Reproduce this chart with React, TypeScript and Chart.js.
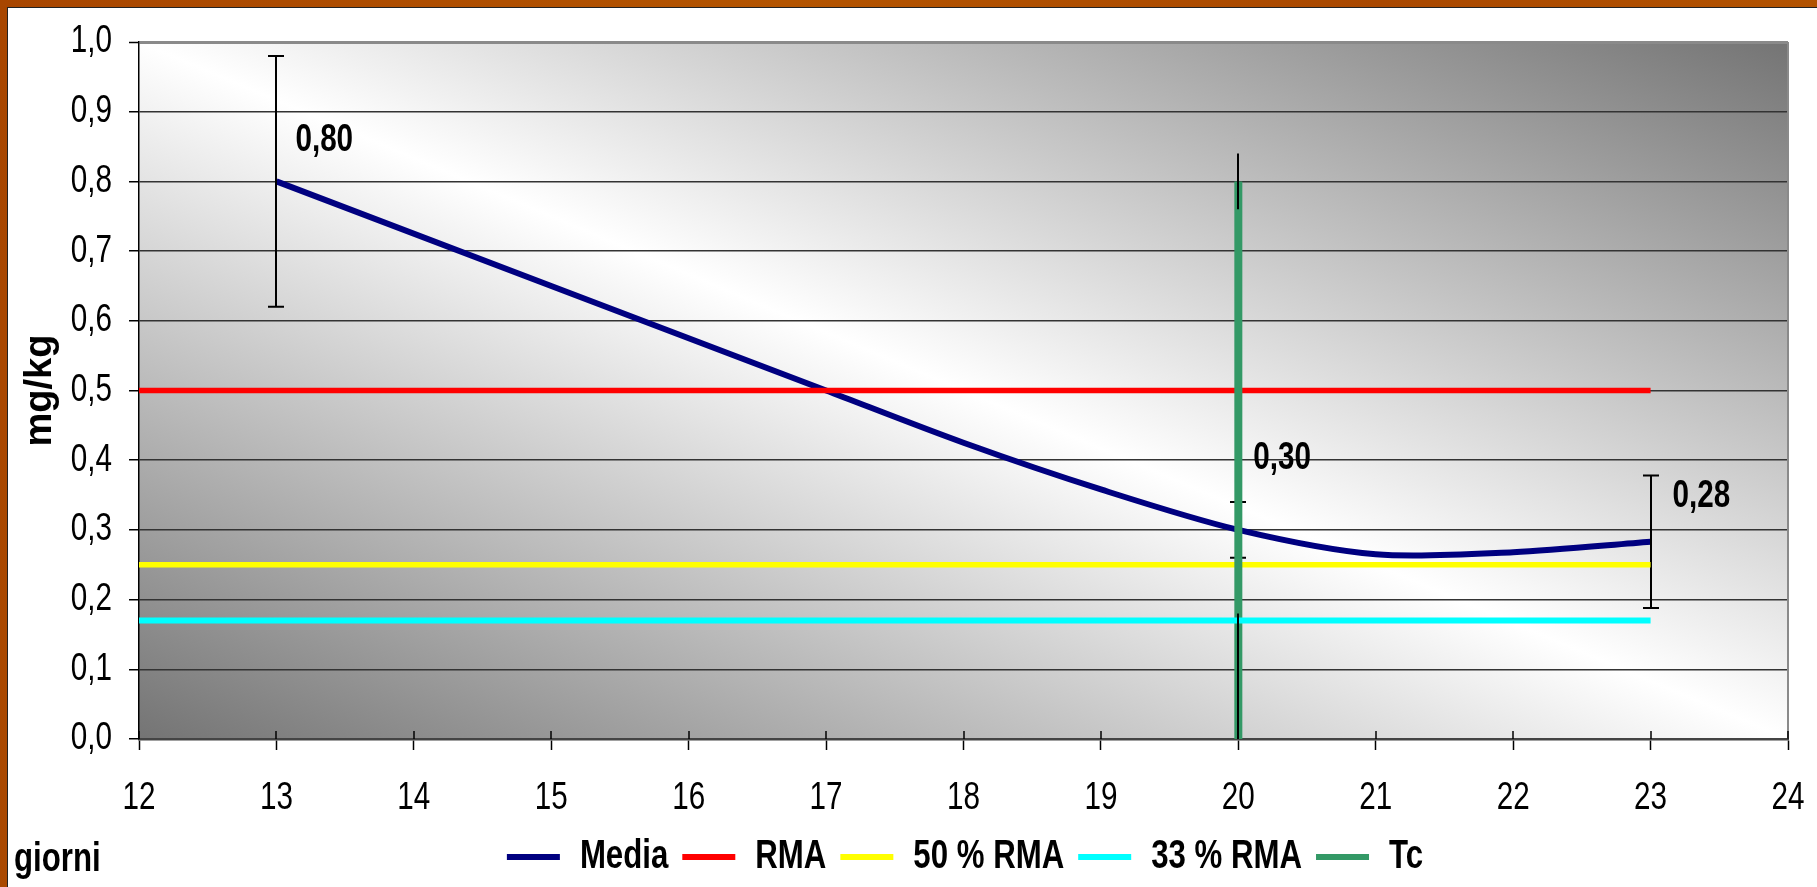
import React, { useEffect, useRef } from "react";
import { Chart, registerables } from "chart.js";

Chart.register(...registerables);

// ---------- data ----------
const xMin = 12;
const xMax = 24;
const yMin = 0;
const yMax = 1;
const yStep = 0.1;

const seriesNames = ["Media", "RMA", "50 % RMA", "33 % RMA", "Tc"];

const mediaDays = [13, 17, 18, 19, 20, 21, 22, 23];
const mediaValues = [0.8, 0.5, 0.425, 0.358, 0.3, 0.265, 0.268, 0.283];

const labeledDays = [13, 20, 23];
const mediaErrDays = [13, 20, 23];
const mediaErr = [0.18, 0.04, 0.095];

const refDays = [12, 23];
const rmaValues = [0.5, 0.5];
const rma50Values = [0.25, 0.25];
const rma33Values = [0.17, 0.17];

const tcDays = [20, 20];
const tcValues = [0, 0.8];
const tcErrPlus = [0.18, 0.04];
const tcErrMinus = [0, 0.04];

const xTitle = "giorni";
const yTitle = "mg/kg";

// ---------- styles ----------
const FONT = '"Liberation Sans", Arial, sans-serif';
const CONDENSE = 0.78;

const fmt = (v: number, d: number) => v.toFixed(d).replace(".", ",");
const toPts = (xs: number[], ys: number[]) => xs.map((x, i) => ({ x, y: ys[i] }));

// horizontal text condensing (emulates a narrow face) for unrotated text
function condenseText(ctx: any, f: number) {
  if (ctx.__condensed) return;
  ctx.__condensed = true;
  const origFill = ctx.fillText.bind(ctx);
  const origMeasure = ctx.measureText.bind(ctx);
  const isRotated = () => {
    const t = ctx.getTransform();
    return Math.abs(t.b) > 1e-6 || Math.abs(t.c) > 1e-6;
  };
  ctx.fillText = (text: string, x: number, y: number, maxWidth?: number) => {
    if (isRotated()) {
      if (maxWidth === undefined) origFill(text, x, y);
      else origFill(text, x, y, maxWidth);
      return;
    }
    ctx.save();
    ctx.translate(x, y);
    ctx.scale(f, 1);
    if (maxWidth === undefined) origFill(text, 0, 0);
    else origFill(text, 0, 0, maxWidth / f);
    ctx.restore();
  };
  ctx.measureText = (text: string) => {
    const m = origMeasure(text);
    const k = isRotated() ? 1 : f;
    return {
      width: m.width * k,
      actualBoundingBoxLeft: m.actualBoundingBoxLeft * k,
      actualBoundingBoxRight: m.actualBoundingBoxRight * k,
      actualBoundingBoxAscent: m.actualBoundingBoxAscent,
      actualBoundingBoxDescent: m.actualBoundingBoxDescent,
      fontBoundingBoxAscent: m.fontBoundingBoxAscent,
      fontBoundingBoxDescent: m.fontBoundingBoxDescent,
    };
  };
}

const decoPlugin = {
  id: "deco",
  afterLayout(chart: any) {
    const lg = chart.legend;
    if (lg) {
      const dx = 67;
      lg.left += dx;
      lg.right += dx;
    }
  },
  beforeDraw(chart: any) {
    const { ctx, chartArea: a } = chart;
    ctx.save();
    ctx.fillStyle = "#ffffff";
    ctx.fillRect(0, 0, chart.width, chart.height);
    const w = a.right - a.left;
    const h = a.bottom - a.top;
    const cx = (a.left + a.right) / 2;
    const cy = (a.top + a.bottom) / 2;
    const L = Math.hypot(w, h);
    const nx = h / L;
    const ny = -w / L;
    const k = (w * h) / L;
    const g = ctx.createLinearGradient(cx - nx * k, cy - ny * k, cx + nx * k, cy + ny * k);
    g.addColorStop(0, "#747474");
    g.addColorStop(0.5, "#ffffff");
    g.addColorStop(1, "#747474");
    ctx.fillStyle = g;
    ctx.fillRect(a.left, a.top, w, h);
    ctx.restore();
  },
  afterDatasetDraw(chart: any, args: any) {
    if (args.index !== 0) return;
    const { ctx } = chart;
    const xs = chart.scales.x;
    const ys = chart.scales.y;
    ctx.save();
    ctx.strokeStyle = "#000";
    ctx.lineWidth = 2;
    mediaErrDays.forEach((d, i) => {
      const v = mediaValues[mediaDays.indexOf(d)];
      const px = Math.round(xs.getPixelForValue(d));
      const y1 = ys.getPixelForValue(v + mediaErr[i]);
      const y2 = ys.getPixelForValue(v - mediaErr[i]);
      ctx.beginPath();
      ctx.moveTo(px, y1);
      ctx.lineTo(px, y2);
      ctx.moveTo(px - 8, y1);
      ctx.lineTo(px + 8, y1);
      ctx.moveTo(px - 8, y2);
      ctx.lineTo(px + 8, y2);
      ctx.stroke();
    });
    ctx.restore();
  },
  afterDatasetsDraw(chart: any) {
    const { ctx, chartArea: a } = chart;
    const xs = chart.scales.x;
    const ys = chart.scales.y;
    ctx.save();
    // Tc error segments
    ctx.strokeStyle = "#000";
    ctx.lineWidth = 2;
    tcDays.forEach((d, i) => {
      const px = Math.round(xs.getPixelForValue(d));
      ctx.beginPath();
      ctx.moveTo(px, ys.getPixelForValue(tcValues[i] + tcErrPlus[i]));
      ctx.lineTo(px, ys.getPixelForValue(tcValues[i] - tcErrMinus[i]));
      ctx.stroke();
    });
    // right border of plot area
    ctx.strokeStyle = "#8a8a8a";
    ctx.lineWidth = 2;
    ctx.beginPath();
    ctx.moveTo(a.right, a.top);
    ctx.lineTo(a.right, a.bottom);
    ctx.stroke();
    // inner parts of x ticks
    ctx.strokeStyle = "#000";
    ctx.lineWidth = 1.5;
    xs.ticks.forEach((t: any) => {
      const px = Math.round(xs.getPixelForValue(t.value));
      ctx.beginPath();
      ctx.moveTo(px, a.bottom - 8);
      ctx.lineTo(px, a.bottom);
      ctx.stroke();
    });
    // data labels
    const offsets = [
      [19, -41],
      [15, -71],
      [22, -45],
    ];
    ctx.fillStyle = "#000";
    ctx.font = `bold 38px ${FONT}`;
    ctx.textAlign = "left";
    ctx.textBaseline = "middle";
    labeledDays.forEach((d, i) => {
      const v = mediaValues[mediaDays.indexOf(d)];
      const px = xs.getPixelForValue(d);
      const py = ys.getPixelForValue(v);
      ctx.fillText(fmt(v, 2), px + offsets[i][0], py + offsets[i][1]);
    });
    // x title
    ctx.font = `bold 40px ${FONT}`;
    ctx.textBaseline = "alphabetic";
    ctx.fillText(xTitle, 6, 863);
    ctx.restore();
  },
};

export default function App() {
  const ref = useRef<HTMLCanvasElement | null>(null);

  useEffect(() => {
    if (!ref.current) return;
    const c2d = ref.current.getContext("2d");
    condenseText(c2d, CONDENSE);
    const chart = new Chart(ref.current, {
      type: "line",
      data: {
        datasets: [
          {
            label: seriesNames[0],
            data: toPts(mediaDays, mediaValues),
            borderColor: "#000080",
            backgroundColor: "#000080",
            borderWidth: 6,
            pointRadius: 0,
            tension: 0.3,
            order: 6,
          },
          {
            label: seriesNames[1],
            data: toPts(refDays, rmaValues),
            borderColor: "#ff0000",
            backgroundColor: "#ff0000",
            borderWidth: 5.5,
            pointRadius: 0,
            order: 5,
          },
          {
            label: seriesNames[2],
            data: toPts(refDays, rma50Values),
            borderColor: "#ffff00",
            backgroundColor: "#ffff00",
            borderWidth: 5.5,
            pointRadius: 0,
            order: 4,
          },
          {
            label: seriesNames[3],
            data: toPts(refDays, rma33Values),
            borderColor: "#00ffff",
            backgroundColor: "#00ffff",
            borderWidth: 6,
            pointRadius: 0,
            order: 2,
          },
          {
            label: seriesNames[4],
            data: toPts(tcDays, tcValues),
            borderColor: "#339966",
            backgroundColor: "#339966",
            borderWidth: 8,
            pointRadius: 0,
            order: 3,
          },
        ],
      },
      options: {
        responsive: false,
        animation: false,
        events: [],
        devicePixelRatio: 1,
        layout: { padding: { left: 0, top: 34, right: 29, bottom: 0 } },
        plugins: {
          tooltip: { enabled: false },
          legend: {
            display: true,
            position: "bottom",
            labels: {
              font: { family: FONT, size: 40, weight: "bold" },
              color: "#000",
              boxWidth: 53,
              boxHeight: 6,
              padding: 14,
              generateLabels: (c: any) =>
                c.data.datasets.map((ds: any, i: number) => ({
                  text: ds.label,
                  fillStyle: ds.borderColor,
                  strokeStyle: ds.borderColor,
                  lineWidth: 0,
                  hidden: false,
                  datasetIndex: i,
                  fontColor: "#000",
                })),
            },
          },
        },
        scales: {
          x: {
            type: "linear",
            min: xMin,
            max: xMax,
            ticks: {
              stepSize: 1,
              font: { family: FONT, size: 38 },
              color: "#000",
              padding: 26,
              maxRotation: 0,
            },
            grid: {
              drawOnChartArea: false,
              drawTicks: true,
              tickLength: 11,
              tickColor: "#000",
              tickWidth: 1.5,
            },
            border: { color: "#444", width: 2.5 },
            afterFit: (s: any) => {
              s.height = 84;
              s.paddingLeft = 0;
              s.paddingRight = 0;
            },
          },
          y: {
            type: "linear",
            min: yMin,
            max: yMax,
            ticks: {
              stepSize: yStep,
              font: { family: FONT, size: 38 },
              color: "#000",
              padding: 17,
              callback: (v: any) => fmt(Number(v), 1),
            },
            grid: {
              color: (c: any) => (c.tick && c.tick.value > 0.999 ? "#8a8a8a" : "#333"),
              lineWidth: (c: any) => (c.tick && c.tick.value > 0.999 ? 3 : 1.5),
              tickLength: 10,
              tickColor: "#000",
              tickWidth: 1.5,
            },
            border: { color: "#000", width: 1.5 },
            title: {
              display: true,
              text: yTitle,
              color: "#000",
              font: { family: FONT, size: 38, weight: "bold" },
              padding: { top: 10, bottom: 0 },
            },
            afterFit: (s: any) => {
              s.width = 131;
              s.paddingTop = 0;
              s.paddingBottom = 0;
            },
          },
        },
      },
      plugins: [decoPlugin],
    });
    return () => chart.destroy();
  }, []);

  return (
    <div
      style={{
        position: "fixed",
        left: 0,
        top: 0,
        width: 1817,
        height: 887,
        background: "linear-gradient(100deg, #a84600 0%, #b35400 40%, #a94800 70%, #b55600 100%)",
        overflow: "hidden",
      }}
    >
      <div
        style={{
          position: "absolute",
          left: 7,
          top: 7,
          width: 1810,
          height: 880,
          borderLeft: "1px solid #222",
          borderTop: "1px solid #222",
          background: "#fff",
        }}
      >
        <canvas ref={ref} width={1809} height={879} style={{ display: "block" }} />
      </div>
    </div>
  );
}
